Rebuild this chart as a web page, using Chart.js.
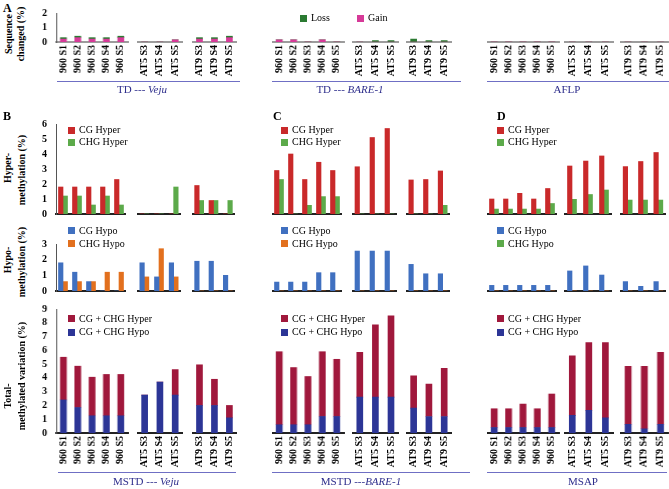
<!DOCTYPE html>
<html>
<head>
<meta charset="utf-8">
<script src="https://cdn.jsdelivr.net/npm/chart.js@4"></script>
<style>
body { margin: 0; background: #fff; }
#fig { position: relative; width: 669px; height: 489px; overflow: hidden; font-family: "Liberation Serif", "Times New Roman", serif; background: #fff; }
#fig canvas { position: absolute; }
.txt { position: absolute; white-space: nowrap; line-height: 1; }
.rot { position: absolute; white-space: nowrap; line-height: 1; font-weight: bold; font-size: 10px; transform: translate(-50%, -50%) rotate(-90deg); }
.sq { position: absolute; width: 7px; height: 7px; }
.uline { position: absolute; height: 1px; background: #6f6fc4; }
.grp { position: absolute; white-space: nowrap; line-height: 1; color: #2e2e8c; font-size: 11px; transform: translateX(-50%); }
.letter { position: absolute; font-weight: bold; font-size: 12px; line-height: 1; }
</style>
</head>
<body>
<div id="fig"></div>
<script>
// sample labels, split into the three plant groups
const groupLabels = [
    ["960 S1", "960 S2", "960 S3", "960 S4", "960 S5"],
    ["AT5 S3", "AT5 S4", "AT5 S5"],
    ["AT9 S3", "AT9 S4", "AT9 S5"]
];

// A: sequence changed (%)
const vejuLoss = [0.1, 0.1, 0.1, 0.1, 0.1, 0, 0, 0, 0.1, 0.1, 0.1];
const vejuGain = [0.2, 0.3, 0.2, 0.2, 0.3, 0, 0, 0.15, 0.2, 0.2, 0.3];
const bareLoss = [0, 0, 0, 0, 0, 0, 0.1, 0.1, 0.2, 0.1, 0.1];
const bareGain = [0.15, 0.15, 0, 0.15, 0, 0, 0, 0, 0, 0, 0];
const aflpLoss = [0, 0, 0, 0, 0, 0, 0, 0, 0, 0, 0];
const aflpGain = [0, 0, 0, 0, 0, 0, 0, 0, 0, 0, 0];

// hyper-methylation (%)
const vejuCGHyper = [1.8, 1.8, 1.8, 1.8, 2.3, 0, 0, 0, 1.9, 0.9, 0];
const vejuCHGHyper = [1.2, 1.2, 0.6, 1.2, 0.6, 0, 0, 1.8, 0.9, 0.9, 0.9];
const bareCGHyper = [2.9, 4.0, 2.3, 3.45, 2.9, 3.15, 5.1, 5.7, 2.27, 2.3, 2.87];
const bareCHGHyper = [2.3, 0, 0.58, 1.16, 1.16, 0, 0, 0, 0, 0, 0.58];
const msapCGHyper = [1.0, 1.0, 1.38, 1.0, 1.7, 3.2, 3.53, 3.87, 3.16, 3.5, 4.1];
const msapCHGHyper = [0.33, 0.33, 0.33, 0.33, 0.7, 0.98, 1.3, 1.6, 0.93, 0.93, 0.93];

// hypo-methylation (%)
const vejuCGHypo = [1.8, 1.2, 0.6, 0, 0, 1.8, 0.9, 1.8, 1.9, 1.9, 1.0];
const vejuCHGHypo = [0.6, 0.6, 0.6, 1.2, 1.2, 0.9, 2.7, 0.9, 0, 0, 0];
const bareCGHypo = [0.57, 0.57, 0.57, 1.17, 1.17, 2.55, 2.55, 2.55, 1.7, 1.1, 1.1];
const bareCHGHypo = [0, 0, 0, 0, 0, 0, 0, 0, 0, 0, 0];
const msapCGHypo = [0.36, 0.36, 0.36, 0.36, 0.36, 1.28, 1.6, 1.02, 0.6, 0.3, 0.6];
const msapCHGHypo = [0, 0, 0, 0, 0, 0, 0, 0, 0, 0, 0];

// total methylated variation (%), stacked: hypo at the bottom, hyper on top
const vejuTotHypo = [2.4, 1.85, 1.25, 1.25, 1.25, 2.75, 3.7, 2.75, 2.0, 2.0, 1.1];
const vejuTotHyper = [3.1, 3.0, 2.8, 3.0, 3.0, 0, 0, 1.85, 2.95, 1.9, 0.9];
const bareTotHypo = [0.6, 0.6, 0.6, 1.2, 1.2, 2.6, 2.6, 2.6, 1.8, 1.2, 1.2];
const bareTotHyper = [5.3, 4.15, 3.5, 4.7, 4.15, 3.25, 5.25, 5.9, 2.35, 2.35, 3.5];
const msapTotHypo = [0.4, 0.4, 0.4, 0.4, 0.4, 1.28, 1.64, 1.1, 0.63, 0.31, 0.63];
const msapTotHyper = [1.36, 1.36, 1.7, 1.36, 2.43, 4.32, 4.93, 5.47, 4.2, 4.52, 5.22];

const C = {
    loss: "#2b7a32", gain: "#d63a98",
    cgHyper: "#c9292a", chgHyper: "#5caa4a",
    cgHypo: "#4070c0", chgHypo: "#e2701e",
    totHyper: "#a0183c", totHypo: "#2c3596"
};

const fig = document.getElementById("fig");
const serif = '"Liberation Serif", "Times New Roman", serif';
Chart.defaults.font.family = serif;
Chart.defaults.color = "#000";

// x ranges of the three groups in each column
const colX = [
    [[56, 126], [137, 181], [192, 235]],
    [[272, 342], [352, 397], [406, 450]],
    [[487, 557], [564, 612], [620, 666]]
];

// vertical placement of each row: pixel of max value, pixel of zero
const rows = {
    seq:   { top: 13,  base: 42,  max: 2 },
    hyper: { top: 124, base: 214, max: 6 },
    hypo:  { top: 244, base: 291, max: 3 },
    total: { top: 309, base: 433, max: 9 }
};

function split(arr, g) {
    const starts = [0, 5, 8, 11];
    return arr.slice(starts[g], starts[g + 1]);
}

function groupChart(row, range, labels, datasets, o) {
    const yW = o.showY ? 22 : 0;
    const padTop = 10;
    const bottomH = o.showX ? 40 : 10;
    const plotW = range[1] - range[0];
    const plotH = row.base - row.top;
    const w = plotW + yW;
    const h = plotH + padTop + bottomH;
    const canvas = document.createElement("canvas");
    canvas.width = w;
    canvas.height = h;
    fig.appendChild(canvas);

    const chart = new Chart(canvas, {
        type: "bar",
        data: {
            labels: labels,
            datasets: datasets.map(d => ({
                label: d.label,
                data: d.data,
                backgroundColor: d.color,
                borderWidth: 0,
                barThickness: o.thick
            }))
        },
        options: {
            responsive: false,
            maintainAspectRatio: false,
            animation: false,
            layout: { padding: { top: padTop, left: 0, right: 0, bottom: 0 } },
            plugins: { legend: { display: false }, tooltip: { enabled: false } },
            scales: {
                x: {
                    stacked: o.stacked,
                    grid: { display: false, drawTicks: false },
                    border: { display: true, color: o.baseColor, width: 2 },
                    ticks: {
                        display: o.showX, autoSkip: false, maxRotation: 90, minRotation: 90,
                        padding: 3, color: "#000", font: { size: 10, weight: "bold" }
                    },
                    afterFit: s => { s.height = bottomH; }
                },
                y: {
                    display: o.showY,
                    stacked: o.stacked,
                    min: 0, max: row.max,
                    grid: { display: false, drawTicks: false },
                    border: { display: true, color: "#555", width: 1 },
                    ticks: { stepSize: 1, autoSkip: false, padding: 9, color: "#000", font: { size: 10, weight: "bold" } },
                    afterFit: s => { s.width = yW; }
                }
            }
        }
    });

    // make the plot area land exactly on the target box
    let ca = chart.chartArea;
    const dw = plotW - (ca.right - ca.left);
    const dh = plotH - (ca.bottom - ca.top);
    if (Math.abs(dw) > 0.5 || Math.abs(dh) > 0.5) {
        chart.resize(w + dw, h + dh);
        ca = chart.chartArea;
    }
    canvas.style.left = (range[0] - ca.left) + "px";
    canvas.style.top = (row.top - ca.top) + "px";
}

// one row of a column: three group charts, only the first one carries the y axis
function panelRow(col, row, series, o) {
    for (let g = 0; g < 3; g++) {
        groupChart(row, colX[col][g], groupLabels[g],
            series.map(s => ({ label: s.label, data: split(s.data, g), color: s.color })),
            Object.assign({}, o, { showY: o.showY && g === 0 }));
    }
}

// panel A
const seqOpts = { stacked: true, showX: true, thick: 6, baseColor: "#9c9c9c" };
panelRow(0, rows.seq, [{ label: "Gain", data: vejuGain, color: C.gain }, { label: "Loss", data: vejuLoss, color: C.loss }], Object.assign({ showY: true }, seqOpts));
panelRow(1, rows.seq, [{ label: "Gain", data: bareGain, color: C.gain }, { label: "Loss", data: bareLoss, color: C.loss }], Object.assign({ showY: false }, seqOpts));
panelRow(2, rows.seq, [{ label: "Gain", data: aflpGain, color: C.gain }, { label: "Loss", data: aflpLoss, color: C.loss }], Object.assign({ showY: false }, seqOpts));

// panels B, C, D
const hyperSets = [[vejuCGHyper, vejuCHGHyper], [bareCGHyper, bareCHGHyper], [msapCGHyper, msapCHGHyper]];
const hypoSets = [[vejuCGHypo, vejuCHGHypo], [bareCGHypo, bareCHGHypo], [msapCGHypo, msapCHGHypo]];
const totSets = [[vejuTotHypo, vejuTotHyper], [bareTotHypo, bareTotHyper], [msapTotHypo, msapTotHyper]];
for (let c = 0; c < 3; c++) {
    const pairOpts = { stacked: false, showX: false, thick: 4.5, baseColor: "#222", showY: c === 0 };
    panelRow(c, rows.hyper, [
        { label: "CG Hyper", data: hyperSets[c][0], color: C.cgHyper },
        { label: "CHG Hyper", data: hyperSets[c][1], color: C.chgHyper }
    ], pairOpts);
    panelRow(c, rows.hypo, [
        { label: "CG Hypo", data: hypoSets[c][0], color: C.cgHypo },
        { label: "CHG Hypo", data: hypoSets[c][1], color: C.chgHypo }
    ], pairOpts);
    panelRow(c, rows.total, [
        { label: "CG + CHG Hypo", data: totSets[c][0], color: C.totHypo },
        { label: "CG + CHG Hyper", data: totSets[c][1], color: C.totHyper }
    ], { stacked: true, showX: true, thick: 6, baseColor: "#222", showY: c === 0 });
}

// text helpers
function addText(cls, html, x, y, style) {
    const d = document.createElement("div");
    d.className = cls;
    d.innerHTML = html;
    d.style.left = x + "px";
    d.style.top = y + "px";
    if (style) Object.assign(d.style, style);
    fig.appendChild(d);
    return d;
}
function legendItem(x, yc, color, text) {
    addText("sq", "", x, yc - 3.5, { background: color });
    addText("txt", text, x + 11, yc - 5, { fontSize: "10px" });
}

// panel letters
addText("letter", "A", 3, 2);
addText("letter", "B", 3, 110);
addText("letter", "C", 273, 110);
addText("letter", "D", 497, 110);

// A legend
legendItem(300, 18, C.loss, "Loss");
legendItem(357, 18, C.gain, "Gain");

// B-D legends
const legX = [68, 281, 497];
const hypoLegendColor = [C.chgHypo, C.chgHypo, C.chgHyper];
for (let c = 0; c < 3; c++) {
    legendItem(legX[c], 130, C.cgHyper, "CG Hyper");
    legendItem(legX[c], 142, C.chgHyper, "CHG Hyper");
    legendItem(legX[c], 230.5, C.cgHypo, "CG Hypo");
    legendItem(legX[c], 243.5, hypoLegendColor[c], "CHG Hypo");
    legendItem(legX[c], 318.5, C.totHyper, "CG + CHG Hyper");
    legendItem(legX[c], 332, C.totHypo, "CG + CHG Hypo");
}

// rotated axis titles
addText("rot", "Sequence", 9, 34);
addText("rot", "changed (%)", 21, 34);
addText("rot", "Hyper-", 8, 168);
addText("rot", "methylation (%)", 22, 170);
addText("rot", "Hypo-", 8, 260);
addText("rot", "methylation (%)", 22, 262);
addText("rot", "Total-", 8, 396);
addText("rot", "methylated variation (%)", 22, 376);

// group underlines and names
const topLines = [[57, 240], [272, 461], [487, 669]];
const botLines = [[58, 236], [272, 470], [487, 667]];
const topNames = ["TD --- <i>Veju</i>", "TD --- <i>BARE-1</i>", "AFLP"];
const botNames = ["MSTD --- <i>Veju</i>", "MSTD ---<i>BARE-1</i>", "MSAP"];
const topCx = [142, 350, 567];
const botCx = [146, 361, 583];
for (let c = 0; c < 3; c++) {
    addText("uline", "", topLines[c][0], 81, { width: (topLines[c][1] - topLines[c][0]) + "px" });
    addText("grp", topNames[c], topCx[c], 84);
    addText("uline", "", botLines[c][0], 472, { width: (botLines[c][1] - botLines[c][0]) + "px" });
    addText("grp", botNames[c], botCx[c], 476);
}
</script>
</body>
</html>
